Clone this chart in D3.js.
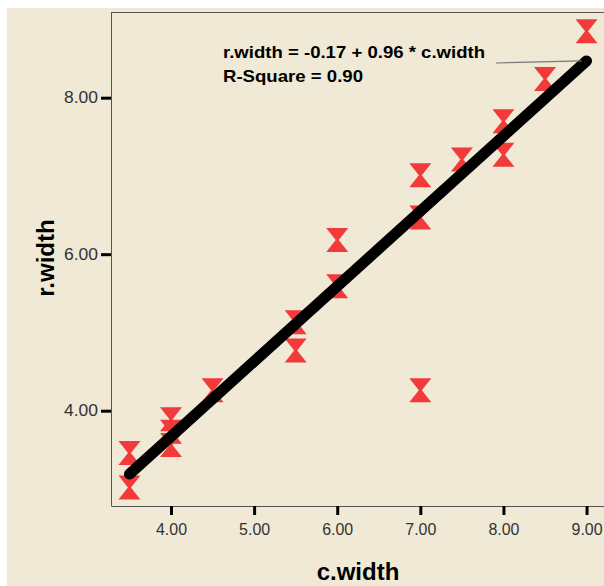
<!DOCTYPE html>
<html>
<head>
<meta charset="utf-8">
<script src="https://cdn.jsdelivr.net/npm/d3@7"></script>
<style>
  html,body{margin:0;padding:0;background:#fff;}
  svg{display:block;}
  .tick text{font-family:"Liberation Sans",Arial,sans-serif;font-size:16px;fill:#333;}
</style>
</head>
<body>
<svg id="chart"></svg>
<script>
// c.width vs r.width
const cWidth=[3.5,3.5,4,4,4,4.5,5.5,5.5,6,6,7,7,7,7.5,8,8,8.5,9];
const rWidth=[3.46,3.02,3.89,3.73,3.56,4.26,5.13,4.77,6.18,5.59,7.01,6.47,4.26,7.21,7.70,7.27,8.24,8.85];
const xTicks=[4,5,6,7,8,9];
const yTicks=[4,6,8];
const fit={a:-0.17,b:0.96,r2:0.90,from:3.5,to:9};

const W=604,H=586;
const svg=d3.select('#chart').attr('width',W).attr('height',H);
svg.append('rect').attr('x',7).attr('y',8).attr('width',W-7).attr('height',H-8).attr('fill','#efe9d6');

const x=d3.scaleLinear().domain([3.284,9.21]).range([111.5,604]);
const y=d3.scaleLinear().domain([2.782,9.095]).range([506,12]);

// frame lines
svg.append('line').attr('x1',111.5).attr('x2',W).attr('y1',12.5).attr('y2',12.5).attr('stroke','#555');
svg.append('line').attr('x1',111.5).attr('x2',111.5).attr('y1',12).attr('y2',506).attr('stroke','#555');
svg.append('line').attr('x1',111.5).attr('x2',W).attr('y1',506.5).attr('y2',506.5).attr('stroke','#555');

const fmt=d3.format('.2f');
const gx=svg.append('g').attr('transform','translate(0,506)')
  .call(d3.axisBottom(x).tickValues(xTicks).tickFormat(fmt).tickSize(9).tickSizeOuter(0).tickPadding(9));
const gy=svg.append('g').attr('transform','translate(111,0)')
  .call(d3.axisLeft(y).tickValues(yTicks).tickFormat(fmt).tickSize(10).tickSizeOuter(0).tickPadding(3));
[gx,gy].forEach(g=>{ g.select('.domain').remove(); g.selectAll('.tick line').attr('stroke','#000').attr('stroke-width',3); });
gy.selectAll('.tick text').attr('textLength',34).attr('lengthAdjust','spacingAndGlyphs');
gx.selectAll('.tick text').attr('textLength',31).attr('lengthAdjust','spacingAndGlyphs');

// hourglass markers
const hg='M-11,-12L11,-12L1.5,0L11,12L-11,12L-1.5,0Z';
svg.append('g').selectAll('path').data(cWidth).enter().append('path')
  .attr('d',hg).attr('fill','#f23a3a')
  .attr('transform',(d,i)=>'translate('+x(d)+','+y(rWidth[i])+')');

// fit line
const fx=[fit.from,fit.to];
svg.append('line')
  .attr('x1',x(fx[0])).attr('y1',y(fit.a+fit.b*fx[0]))
  .attr('x2',x(fx[1])).attr('y2',y(fit.a+fit.b*fx[1]))
  .attr('stroke','#000').attr('stroke-width',11).attr('stroke-linecap','round');

// label + connector
svg.append('line').attr('x1',496).attr('y1',63).attr('x2',x(fit.to)-5).attr('y2',y(fit.a+fit.b*fit.to)).attr('stroke','#777').attr('stroke-width',1.2);
const lab=svg.append('g').attr('font-family','"Liberation Sans",Arial,sans-serif').attr('font-weight','bold').attr('font-size',17).attr('fill','#000');
lab.append('text').attr('x',223).attr('y',58).attr('textLength',262).attr('lengthAdjust','spacingAndGlyphs')
  .text('r.width = '+fit.a.toFixed(2)+' + '+fit.b.toFixed(2)+' * c.width');
lab.append('text').attr('x',223).attr('y',82).attr('textLength',140).attr('lengthAdjust','spacingAndGlyphs')
  .text('R-Square = '+fit.r2.toFixed(2));

// axis titles
svg.append('text').attr('x',358).attr('y',580).attr('text-anchor','middle')
  .attr('font-family','"Liberation Sans",Arial,sans-serif').attr('font-weight','bold').attr('font-size',24).text('c.width');
svg.append('text').attr('transform','translate(54,258) rotate(-90)').attr('text-anchor','middle')
  .attr('font-family','"Liberation Sans",Arial,sans-serif').attr('font-weight','bold').attr('font-size',24).text('r.width');
</script>
</body>
</html>
